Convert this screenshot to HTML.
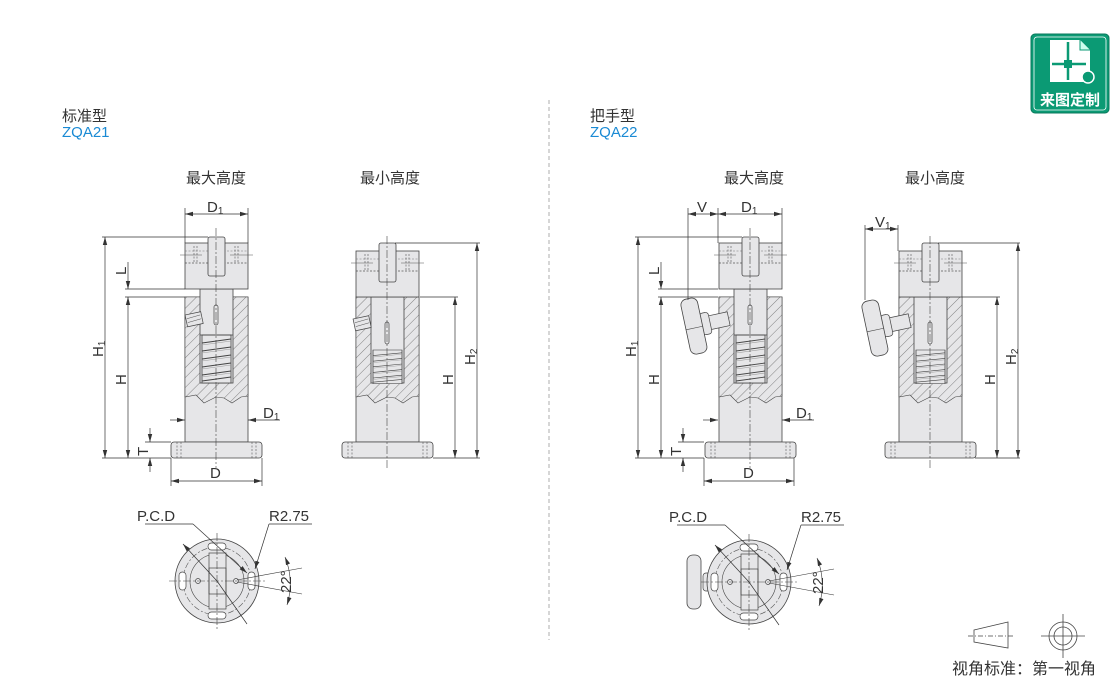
<!DOCTYPE html>
<html><head><meta charset="utf-8"><style>
html,body{margin:0;padding:0;background:#fff;}
svg{display:block;}
text{font-family:"Liberation Sans","Noto Sans CJK SC",sans-serif;fill:#333;}
</style></head><body>
<svg width="1110" height="679" viewBox="0 0 1110 679" xmlns="http://www.w3.org/2000/svg">
<defs>
<pattern id="h" width="7" height="7" patternUnits="userSpaceOnUse" patternTransform="rotate(45)">
<rect width="7" height="7" fill="#e6e6e8"/><line x1="0" y1="0" x2="0" y2="7" stroke="#555" stroke-width="0.7"/>
</pattern>
<marker id="a" markerWidth="8" markerHeight="6" refX="8" refY="3" orient="auto-start-reverse" markerUnits="userSpaceOnUse"><path d="M0,0.8 L8,3 L0,5.2z" fill="#333"/></marker>

<g id="cap">
<rect x="-31" y="0" width="63" height="46" fill="#e6e6e8" stroke="#444" stroke-width="0.8"/>
<line x1="-31" y1="20" x2="32" y2="20" stroke="#555" stroke-width="0.7" stroke-dasharray="2,1.5"/>
<line x1="-31" y1="8" x2="32" y2="8" stroke="#777" stroke-width="0.5" stroke-dasharray="2,1.5"/>
<line x1="-22" y1="3" x2="-22" y2="20" stroke="#555" stroke-width="0.6" stroke-dasharray="2,1.5"/>
<line x1="-19" y1="3" x2="-19" y2="20" stroke="#555" stroke-width="0.6" stroke-dasharray="2,1.5"/>
<line x1="19" y1="3" x2="19" y2="20" stroke="#555" stroke-width="0.6" stroke-dasharray="2,1.5"/>
<line x1="22" y1="3" x2="22" y2="20" stroke="#555" stroke-width="0.6" stroke-dasharray="2,1.5"/>
<line x1="-36" y1="12" x2="-14" y2="12" stroke="#555" stroke-width="0.5"/>
<line x1="14" y1="12" x2="37" y2="12" stroke="#555" stroke-width="0.5"/>
</g>
<g id="body">
<rect x="-31" y="297" width="63" height="145" fill="#e6e6e8" stroke="#444" stroke-width="0.8"/>
<polygon points="-31,297 32,297 32,396 25,397 16,403 8,398 0,397 -12,403 -20,395 -31,397" fill="url(#h)" stroke="#444" stroke-width="0.6"/>
<rect x="-45" y="442" width="91" height="16" rx="3" fill="#e6e6e8" stroke="#444" stroke-width="0.8"/>
<line x1="-39" y1="442" x2="-39" y2="458" stroke="#555" stroke-width="0.6" stroke-dasharray="2,1.5"/>
<line x1="-35" y1="442" x2="-35" y2="458" stroke="#555" stroke-width="0.6" stroke-dasharray="2,1.5"/>
<line x1="36" y1="442" x2="36" y2="458" stroke="#555" stroke-width="0.6" stroke-dasharray="2,1.5"/>
<line x1="40" y1="442" x2="40" y2="458" stroke="#555" stroke-width="0.6" stroke-dasharray="2,1.5"/>
</g>
<g id="spring">
<rect x="-14" y="0" width="29" height="48" fill="#e6e6e8" stroke="#444" stroke-width="0.8"/>
<path d="M-14,8 L15,4 M-14,16 L15,12 M-14,24 L15,20 M-14,32 L15,28 M-14,40 L15,36 M-14,46 L15,42" stroke="#444" stroke-width="0.9"/>
<path d="M-14,10 L15,6 M-14,18 L15,14 M-14,26 L15,22 M-14,34 L15,30 M-14,42 L15,38" stroke="#999" stroke-width="0.6"/>
</g>
<g id="maxunit">
<use href="#body"/>
<rect x="-16" y="289" width="33" height="94" fill="#e6e6e8" stroke="#444" stroke-width="0.8"/>
<use href="#spring" transform="translate(0,335)"/>
<line x1="-16" y1="335" x2="17" y2="335" stroke="#444" stroke-width="0.8"/>
<rect x="-2" y="305" width="4" height="20" rx="2" fill="none" stroke="#444" stroke-width="0.7"/>
<use href="#cap" transform="translate(0,243)"/>
<rect x="-8" y="237" width="17" height="39" rx="2" fill="#e6e6e8" stroke="#444" stroke-width="0.8"/>
<line x1="0" y1="228" x2="0" y2="468" stroke="#444" stroke-width="0.6" stroke-dasharray="8,2,2,2"/>
</g>
<g id="minunit">
<use href="#body"/>
<rect x="-16" y="297" width="33" height="86" fill="#e6e6e8" stroke="#444" stroke-width="0.8"/>
<use href="#spring" transform="translate(0,350) scale(1,0.7)"/>
<rect x="-2" y="322" width="4" height="22" rx="2" fill="none" stroke="#444" stroke-width="0.7"/>
<use href="#cap" transform="translate(0,251)"/>
<rect x="-8" y="243" width="17" height="39" rx="2" fill="#e6e6e8" stroke="#444" stroke-width="0.8"/>
<line x1="0" y1="236" x2="0" y2="468" stroke="#444" stroke-width="0.6" stroke-dasharray="8,2,2,2"/>
</g>
<g id="screw">
<rect x="-14" y="-6" width="16" height="12" fill="#e6e6e8" stroke="#444" stroke-width="0.7"/>
<path d="M-13,-2 L1,-3 M-13,2 L1,1" stroke="#555" stroke-width="0.5"/>
</g>
<g id="knob">
<rect x="-4" y="-7" width="20" height="14" fill="#e6e6e8" stroke="#444" stroke-width="0.7"/>
<rect x="-12" y="-11" width="9" height="22" rx="3" fill="#e6e6e8" stroke="#444" stroke-width="0.7"/>
<rect x="-28" y="-28" width="17" height="56" rx="6" fill="#e6e6e8" stroke="#444" stroke-width="0.8"/>
<line x1="-28" y1="2" x2="-11" y2="2" stroke="#444" stroke-width="0.6"/>
</g>
<g id="bottom">
<circle r="42" fill="#e6e6e8" stroke="#444" stroke-width="0.8"/>
<circle r="34" fill="none" stroke="#555" stroke-width="0.6" stroke-dasharray="6,2,2,2"/>
<circle r="27" fill="none" stroke="#444" stroke-width="0.6"/>
<rect x="-8" y="-28" width="17" height="56" fill="#e6e6e8" stroke="#444" stroke-width="0.7"/>
<rect x="-8" y="-13" width="17" height="26" fill="none" stroke="#444" stroke-width="0.7"/>
<rect x="-9" y="-38" width="18" height="7" rx="3.5" fill="#fff" stroke="#444" stroke-width="0.7"/>
<rect x="-9" y="31" width="18" height="7" rx="3.5" fill="#fff" stroke="#444" stroke-width="0.7"/>
<rect x="-38" y="-9" width="7" height="18" rx="3.5" fill="#fff" stroke="#444" stroke-width="0.7"/>
<rect x="31" y="-9" width="7" height="18" rx="3.5" fill="#fff" stroke="#444" stroke-width="0.7"/>
<circle cx="-19" cy="0" r="2.5" fill="none" stroke="#444" stroke-width="0.7"/>
<circle cx="19" cy="0" r="2.5" fill="none" stroke="#444" stroke-width="0.7"/>
<line x1="-48" y1="0" x2="48" y2="0" stroke="#444" stroke-width="0.6" stroke-dasharray="8,2,2,2"/>
<line x1="0" y1="-48" x2="0" y2="48" stroke="#444" stroke-width="0.6" stroke-dasharray="8,2,2,2"/>
<line x1="-72" y1="-57" x2="-24" y2="-57" stroke="#333" stroke-width="0.7"/>
<line x1="-24" y1="-57" x2="30" y2="-8" stroke="#333" stroke-width="0.7" marker-end="url(#a)"/>
<line x1="0" y1="0" x2="-34" y2="-37" stroke="#333" stroke-width="0.7" marker-end="url(#a)"/>
<line x1="0" y1="0" x2="30" y2="43" stroke="#333" stroke-width="0.7"/>
<line x1="52" y1="-57" x2="95" y2="-57" stroke="#333" stroke-width="0.7"/>
<line x1="52" y1="-57" x2="38" y2="-12" stroke="#333" stroke-width="0.7" marker-end="url(#a)"/>
<line x1="20" y1="-1" x2="85" y2="-13" stroke="#333" stroke-width="0.6"/>
<line x1="20" y1="1" x2="85" y2="13" stroke="#333" stroke-width="0.6"/>
<path d="M68,-24 A70,70 0 0 1 70,24" fill="none" stroke="#333" stroke-width="0.6" marker-start="url(#a)" marker-end="url(#a)"/>
<text x="-80" y="-60" font-size="15">P.C.D</text>
<text x="52" y="-60" font-size="15">R2.75</text>
<text transform="translate(74,12) rotate(-90)" font-size="15">22°</text>
</g>
</defs>

<line x1="549" y1="100" x2="549" y2="640" stroke="#999" stroke-width="0.8" stroke-dasharray="4,3"/>

<text x="62" y="121" font-size="15">标准型</text>
<text x="62" y="137" font-size="15" style="fill:#1a8ad4">ZQA21</text>
<text x="590" y="121" font-size="15">把手型</text>
<text x="590" y="137" font-size="15" style="fill:#1a8ad4">ZQA22</text>
<text x="186" y="183" font-size="15">最大高度</text>
<text x="360" y="183" font-size="15">最小高度</text>
<text x="724" y="183" font-size="15">最大高度</text>
<text x="905" y="183" font-size="15">最小高度</text>

<g transform="translate(216,0)"><use href="#maxunit"/><use href="#screw" transform="translate(-16,318) rotate(-12)"/></g>
<g transform="translate(387,0)"><use href="#minunit"/><use href="#screw" transform="translate(-19,322) rotate(-12)"/></g>
<g transform="translate(750,0)"><use href="#maxunit"/><use href="#knob" transform="translate(-37,322) rotate(-12)"/></g>
<g transform="translate(930,0)"><use href="#minunit"/><use href="#knob" transform="translate(-36,324) rotate(-12)"/></g>

<g stroke="#333" stroke-width="0.7" fill="none">
<line x1="185" y1="208" x2="185" y2="243"/><line x1="248" y1="208" x2="248" y2="243"/>
<line x1="185" y1="214" x2="248" y2="214" marker-start="url(#a)" marker-end="url(#a)"/>
<line x1="102" y1="237" x2="208" y2="237"/>
<line x1="105" y1="237" x2="105" y2="458" marker-start="url(#a)" marker-end="url(#a)"/>
<line x1="125" y1="289" x2="185" y2="289"/><line x1="125" y1="297" x2="185" y2="297"/>
<line x1="128" y1="262" x2="128" y2="289" marker-end="url(#a)"/>
<line x1="128" y1="297" x2="128" y2="458" marker-start="url(#a)" marker-end="url(#a)"/>
<line x1="102" y1="458" x2="171" y2="458"/><line x1="145" y1="442" x2="171" y2="442"/>
<line x1="150" y1="428" x2="150" y2="442" marker-end="url(#a)"/>
<line x1="150" y1="472" x2="150" y2="458" marker-end="url(#a)"/>
<line x1="171" y1="458" x2="171" y2="486"/><line x1="262" y1="458" x2="262" y2="486"/>
<line x1="171" y1="481" x2="262" y2="481" marker-start="url(#a)" marker-end="url(#a)"/>
<line x1="170" y1="420" x2="185" y2="420" marker-end="url(#a)"/>
<line x1="280" y1="420" x2="248" y2="420" marker-end="url(#a)"/>
<line x1="395" y1="243" x2="480" y2="243"/><line x1="420" y1="297" x2="458" y2="297"/>
<line x1="433" y1="458" x2="480" y2="458"/>
<line x1="455" y1="297" x2="455" y2="458" marker-start="url(#a)" marker-end="url(#a)"/>
<line x1="477" y1="243" x2="477" y2="458" marker-start="url(#a)" marker-end="url(#a)"/>
<line x1="718" y1="208" x2="718" y2="243"/><line x1="782" y1="208" x2="782" y2="243"/>
<line x1="688" y1="208" x2="688" y2="300"/>
<line x1="718" y1="214" x2="782" y2="214" marker-start="url(#a)" marker-end="url(#a)"/>
<line x1="688" y1="214" x2="718" y2="214" marker-start="url(#a)" marker-end="url(#a)"/>
<line x1="635" y1="237" x2="742" y2="237"/>
<line x1="638" y1="237" x2="638" y2="458" marker-start="url(#a)" marker-end="url(#a)"/>
<line x1="658" y1="289" x2="718" y2="289"/><line x1="658" y1="297" x2="718" y2="297"/>
<line x1="661" y1="262" x2="661" y2="289" marker-end="url(#a)"/>
<line x1="661" y1="297" x2="661" y2="458" marker-start="url(#a)" marker-end="url(#a)"/>
<line x1="635" y1="458" x2="704" y2="458"/><line x1="678" y1="442" x2="704" y2="442"/>
<line x1="683" y1="428" x2="683" y2="442" marker-end="url(#a)"/>
<line x1="683" y1="472" x2="683" y2="458" marker-end="url(#a)"/>
<line x1="704" y1="458" x2="704" y2="486"/><line x1="794" y1="458" x2="794" y2="486"/>
<line x1="704" y1="481" x2="794" y2="481" marker-start="url(#a)" marker-end="url(#a)"/>
<line x1="703" y1="420" x2="718" y2="420" marker-end="url(#a)"/>
<line x1="814" y1="420" x2="782" y2="420" marker-end="url(#a)"/>
<line x1="865" y1="225" x2="865" y2="300"/><line x1="898" y1="225" x2="898" y2="251"/>
<line x1="865" y1="229" x2="898" y2="229" marker-start="url(#a)" marker-end="url(#a)"/>
<line x1="938" y1="243" x2="1020" y2="243"/><line x1="962" y1="297" x2="1000" y2="297"/>
<line x1="975" y1="458" x2="1020" y2="458"/>
<line x1="997" y1="297" x2="997" y2="458" marker-start="url(#a)" marker-end="url(#a)"/>
<line x1="1018" y1="243" x2="1018" y2="458" marker-start="url(#a)" marker-end="url(#a)"/>
</g>

<g font-size="15">
<text x="207" y="212">D<tspan font-size="10" dy="2">1</tspan></text>
<text x="263" y="418">D<tspan font-size="10" dy="2">1</tspan></text>
<text x="210" y="478">D</text>
<text transform="translate(126,275) rotate(-90)">L</text>
<text transform="translate(126,385) rotate(-90)">H</text>
<text transform="translate(103,357) rotate(-90)">H<tspan font-size="10" dy="2">1</tspan></text>
<text transform="translate(148,456) rotate(-90)">T</text>
<text transform="translate(453,385) rotate(-90)">H</text>
<text transform="translate(475,365) rotate(-90)">H<tspan font-size="10" dy="2">2</tspan></text>
<text x="741" y="212">D<tspan font-size="10" dy="2">1</tspan></text>
<text x="697" y="212">V</text>
<text x="796" y="418">D<tspan font-size="10" dy="2">1</tspan></text>
<text x="743" y="478">D</text>
<text transform="translate(659,275) rotate(-90)">L</text>
<text transform="translate(659,385) rotate(-90)">H</text>
<text transform="translate(636,357) rotate(-90)">H<tspan font-size="10" dy="2">1</tspan></text>
<text transform="translate(681,456) rotate(-90)">T</text>
<text x="875" y="227">V<tspan font-size="10" dy="2">1</tspan></text>
<text transform="translate(995,385) rotate(-90)">H</text>
<text transform="translate(1016,365) rotate(-90)">H<tspan font-size="10" dy="2">2</tspan></text>
</g>

<use href="#bottom" transform="translate(217,581)"/>
<g transform="translate(709,582)">
<rect x="-6" y="-9" width="12" height="18" rx="3" fill="#e6e6e8" stroke="#444" stroke-width="0.7"/>
<rect x="-22" y="-27" width="14" height="54" rx="6" fill="#e6e6e8" stroke="#444" stroke-width="0.8"/>
</g>
<use href="#bottom" transform="translate(749,582)"/>

<rect x="1031" y="34" width="78" height="79" rx="4" fill="#0b9a74" stroke="#0a7a5c" stroke-width="1"/>
<rect x="1034" y="37" width="72" height="73" rx="3" fill="none" stroke="#fff" stroke-width="0.8"/>
<path d="M1050,40 H1080 L1090,50 V82 H1050z" fill="#fff"/>
<path d="M1080,40 V50 H1090" fill="#cfe" stroke="#0b9a74" stroke-width="1"/>
<line x1="1068" y1="42" x2="1068" y2="80" stroke="#0b9a74" stroke-width="2.5"/>
<line x1="1052" y1="64" x2="1086" y2="64" stroke="#0b9a74" stroke-width="2.5"/>
<rect x="1064" y="60" width="8" height="8" fill="#0b9a74"/>
<circle cx="1088" cy="77" r="6" fill="#0b9a74" stroke="#fff" stroke-width="1.5"/>
<text x="1070" y="105" font-size="15" font-weight="bold" text-anchor="middle" style="fill:#fff">来图定制</text>

<g stroke="#444" stroke-width="0.8" fill="none">
<path d="M974,630 L1008,622 V648 L974,642z"/>
<line x1="968" y1="636" x2="1014" y2="636" stroke-dasharray="5,2,1,2"/>
<circle cx="1063" cy="636" r="14"/><circle cx="1063" cy="636" r="9"/>
<line x1="1041" y1="636" x2="1085" y2="636"/><line x1="1063" y1="614" x2="1063" y2="658"/>
</g>
<text x="952" y="674" font-size="16">视角标准：第一视角</text>
</svg>
</body></html>
